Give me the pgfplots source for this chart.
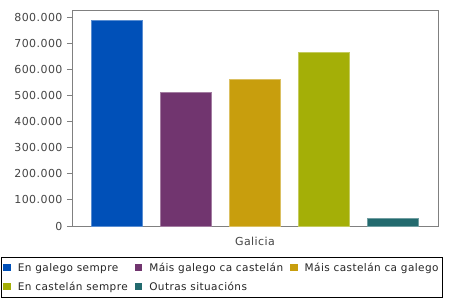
\documentclass[border=0pt]{standalone}
\usepackage{fontspec}
\setmainfont{DejaVu Sans}[LetterSpace=4]
\usepackage{pgfplots}
\pgfplotsset{compat=1.18}
\definecolor{c1}{HTML}{0050B8}
\definecolor{c2}{HTML}{71356F}
\definecolor{c3}{HTML}{C89E0D}
\definecolor{c4}{HTML}{A4AF07}
\definecolor{c5}{HTML}{236A6E}
\definecolor{axgray}{HTML}{808080}
\definecolor{txt}{HTML}{444444}
\begin{document}
\begin{tikzpicture}
\begin{axis}[name=ax,
  scale only axis, width=366bp, height=216bp,
  ybar=18bp, bar width=51bp,
  xmin=-1, xmax=1, ymin=0, ymax=827000,
  xtick={0}, xticklabels={Galicia},
  x tick style={draw=none},
  ytick={0,100000,200000,300000,400000,500000,600000,700000,800000},
  scaled y ticks=false,
  ytick pos=left, tick align=outside, major tick length=5bp,
  y tick style={axgray, line width=0.8bp},
  axis line style={axgray, line width=0.8bp},
  ticklabel style={font=\fontsize{11bp}{13bp}\selectfont, text=txt},
  yticklabel style={/pgf/number format/fixed, /pgf/number format/1000 sep={.}, /pgf/number format/assume math mode=true, xshift=-1bp},
  xticklabel style={yshift=-3bp},
  legend columns=3,
  legend cell align=left,
  legend style={anchor=north west, at={(rel axis cs:0,0)}, xshift=-71bp, yshift=-31bp,
    draw=black, line width=0.8bp, font=\fontsize{10.5bp}{12.5bp}\selectfont, text=black!85,
    inner xsep=2bp, inner ysep=3.5bp, row sep=5bp,
    /tikz/every odd column/.append style={column sep=5bp},
    /tikz/every even column/.append style={column sep=5bp}},
  legend image code/.code={\fill[#1,draw=none] (0bp,-3.5bp) rectangle (7.5bp,3.5bp);},
]
\addplot[fill=c1, draw=c1!65!white, line width=0.8bp] coordinates {(0,788000)};
\addplot[fill=c2, draw=c2!65!white, line width=0.8bp] coordinates {(0,512000)};
\addplot[fill=c3, draw=c3!65!white, line width=0.8bp] coordinates {(0,562000)};
\addplot[fill=c4, draw=c4!65!white, line width=0.8bp] coordinates {(0,663000)};
\addplot[fill=c5, draw=c5!65!white, line width=0.8bp] coordinates {(0,29500)};
\legend{En galego sempre, Máis galego ca castelán, Máis castelán ca galego\hspace{4bp}, En castelán sempre, Outras situacións}
\draw[axgray, line width=0.8bp] ([yshift=-4bp]rel axis cs:0,0) -- ([yshift=-4bp]rel axis cs:1,0);
\draw[axgray, line width=0.8bp] ([yshift=-4bp]rel axis cs:0.5,0) -- ([yshift=-8bp]rel axis cs:0.5,0);
\end{axis}
\path ([xshift=-72bp,yshift=-74bp]ax.south west) rectangle ([xshift=12bp,yshift=10bp]ax.north east);
\end{tikzpicture}
\end{document}
